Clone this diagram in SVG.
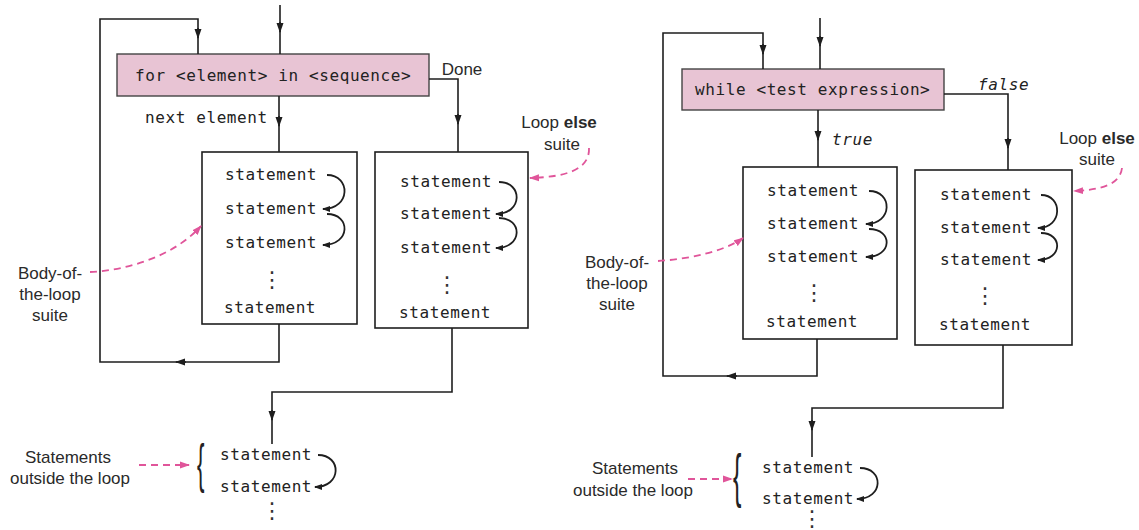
<svg xmlns="http://www.w3.org/2000/svg" width="1139" height="530" viewBox="0 0 1139 530">
<defs>
<marker id="a" markerUnits="userSpaceOnUse" markerWidth="10" markerHeight="8" refX="9" refY="4" orient="auto"><path d="M0,0.5 L10,4 L0,7.5 z" fill="#1e1e1e"/></marker>
<marker id="s" markerUnits="userSpaceOnUse" markerWidth="8" markerHeight="7" refX="7" refY="3.5" orient="auto"><path d="M0,0.5 L8,3.5 L0,6.5 z" fill="#1e1e1e"/></marker>
<marker id="p" markerUnits="userSpaceOnUse" markerWidth="10" markerHeight="8" refX="9" refY="4" orient="auto"><path d="M0,0.5 L10,4 L0,7.5 z" fill="#e0559a"/></marker>
</defs>
<style>
.ln{fill:none;stroke:#1e1e1e;stroke-width:1.6}
.ar{fill:none;stroke:#1e1e1e;stroke-width:1.6;marker-end:url(#a)}
.cv{fill:none;stroke:#1e1e1e;stroke-width:1.8;marker-end:url(#s)}
.pk{fill:none;stroke:#e0559a;stroke-width:1.8;stroke-dasharray:7 5;marker-end:url(#p)}
.box{fill:#fff;stroke:#1e1e1e;stroke-width:1.6}
.hd{fill:#e8c4d4;stroke:#444;stroke-width:1.4}
.m{font-family:"DejaVu Sans Mono",monospace;font-size:16px;letter-spacing:0.6px;fill:#222}
.mi{font-family:"DejaVu Sans Mono",monospace;font-size:16px;font-style:italic;letter-spacing:0.6px;fill:#222}
.t{font-family:"Liberation Sans",Arial,sans-serif;font-size:17px;fill:#2a2a2a;text-anchor:middle}
.d{font-family:"DejaVu Sans",sans-serif;font-size:22px;fill:#333;text-anchor:middle}
.br{font-family:"Liberation Sans",Arial,sans-serif;fill:#222}
</style>

<g id="for-header">
  <rect class="hd" x="117" y="54" width="312" height="42"/>
  <text class="m" x="135" y="81">for &lt;element&gt; in &lt;sequence&gt;</text>
</g>
<g id="for-labels">
  <text class="m" x="145" y="123">next element</text>
  <text class="t" x="462" y="75">Done</text>
</g>
<g id="for-body">
  <rect class="box" x="202" y="152" width="155" height="172"/>
  <text class="m" x="225" y="180">statement</text>
  <text class="m" x="225" y="214">statement</text>
  <text class="m" x="225" y="248">statement</text>
  <text class="d" x="272" y="287">⋮</text>
  <text class="m" x="224" y="313">statement</text>
</g>
<g id="for-else">
  <rect class="box" x="375" y="152" width="153" height="176"/>
  <text class="m" x="400" y="187">statement</text>
  <text class="m" x="400" y="219">statement</text>
  <text class="m" x="400" y="253">statement</text>
  <text class="d" x="447" y="292">⋮</text>
  <text class="m" x="399" y="318">statement</text>
</g>
<g id="for-after">
  <text class="br" font-size="53" transform="translate(197,482) scale(0.42,1)">{</text>
  <text class="m" x="220" y="460">statement</text>
  <text class="m" x="220" y="492">statement</text>
  <text class="d" x="272" y="518">⋮</text>
</g>
<g id="for-annotations">
  <text class="t" x="50" y="279">Body-of-</text>
  <text class="t" x="50" y="300">the-loop</text>
  <text class="t" x="50" y="321">suite</text>
  <text class="t" x="559" y="128">Loop <tspan font-weight="bold">else</tspan></text>
  <text class="t" x="562" y="150">suite</text>
  <text class="t" x="68" y="463">Statements</text>
  <text class="t" x="70" y="484">outside the loop</text>
</g>

<g id="while-header">
  <rect class="hd" x="682" y="69" width="262" height="41"/>
  <text class="m" x="695" y="95">while &lt;test expression&gt;</text>
</g>
<g id="while-labels">
  <text class="mi" x="978" y="90">false</text>
  <text class="mi" x="832" y="145">true</text>
</g>
<g id="while-body">
  <rect class="box" x="743" y="167" width="154" height="172"/>
  <text class="m" x="767" y="196">statement</text>
  <text class="m" x="767" y="229">statement</text>
  <text class="m" x="767" y="262">statement</text>
  <text class="d" x="814" y="300">⋮</text>
  <text class="m" x="766" y="327">statement</text>
</g>
<g id="while-else">
  <rect class="box" x="915" y="170" width="157" height="175"/>
  <text class="m" x="940" y="200">statement</text>
  <text class="m" x="940" y="233">statement</text>
  <text class="m" x="940" y="265">statement</text>
  <text class="d" x="985" y="303">⋮</text>
  <text class="m" x="939" y="330">statement</text>
</g>
<g id="while-after">
  <text class="br" font-size="60" transform="translate(733,496) scale(0.42,1)">{</text>
  <text class="m" x="762" y="473">statement</text>
  <text class="m" x="762" y="504">statement</text>
  <text class="d" x="812" y="526" font-size="19">⋮</text>
</g>
<g id="while-annotations">
  <text class="t" x="617" y="268">Body-of-</text>
  <text class="t" x="617" y="289">the-loop</text>
  <text class="t" x="617" y="310">suite</text>
  <text class="t" x="1097" y="144">Loop <tspan font-weight="bold">else</tspan></text>
  <text class="t" x="1097" y="165">suite</text>
  <text class="t" x="635" y="474">Statements</text>
  <text class="t" x="633" y="496">outside the loop</text>
</g>

<g id="connectors">
  <!-- left diagram -->
  <path class="ln" d="M280,5 V54"/>
  <path class="ar" d="M280,22 V32"/>
  <path class="ln" d="M279,324 V362 H100 V19 H198 V54"/>
  <path class="ar" d="M186,362 H176"/>
  <path class="ar" d="M198,28 V38"/>
  <path class="ln" d="M279,96 V152"/>
  <path class="ar" d="M279,116 V126"/>
  <path class="ln" d="M429,79 H458 V152"/>
  <path class="ar" d="M458,114 V124"/>
  <path class="ln" d="M452,328 V392 H272 V444"/>
  <path class="ar" d="M272,410 V420"/>
  <!-- right diagram -->
  <path class="ln" d="M820,18 V69"/>
  <path class="ar" d="M820,36 V46"/>
  <path class="ln" d="M817,339 V376 H663 V33 H763 V69"/>
  <path class="ar" d="M737,376 H727"/>
  <path class="ar" d="M763,44 V54"/>
  <path class="ln" d="M818,110 V167"/>
  <path class="ar" d="M818,130 V140"/>
  <path class="ln" d="M944,94 H1008 V170"/>
  <path class="ar" d="M1008,138 V148"/>
  <path class="ln" d="M1003,345 V408 H812 V457"/>
  <path class="ar" d="M812,420 V430"/>
  <!-- statement sequence arrows -->
  <path class="cv" d="M327,175 C351,175 351,209 323,209"/>
  <path class="cv" d="M327,214 C351,214 351,245 323,245"/>
  <path class="cv" d="M499,182 C523,182 523,214 496,214"/>
  <path class="cv" d="M499,218 C523,218 523,248 496,248"/>
  <path class="cv" d="M869,191 C893,191 893,224 866,224"/>
  <path class="cv" d="M869,229 C893,229 893,257 866,257"/>
  <path class="cv" d="M1041,195 C1063,195 1063,228 1038,228"/>
  <path class="cv" d="M1041,233 C1063,233 1063,260 1038,260"/>
  <path class="cv" d="M318,455 C342,455 342,487 315,487"/>
  <path class="cv" d="M860,468 C884,468 884,499 857,499"/>
  <!-- pink annotation arrows -->
  <path class="pk" d="M90,272 C130,270 175,255 201,226"/>
  <path class="pk" d="M589,148 C590,170 565,177 530,178"/>
  <path class="pk" d="M139,465 H189"/>
  <path class="pk" d="M658,261 C690,259 725,251 743,238"/>
  <path class="pk" d="M1122,168 C1120,185 1100,190 1074,191"/>
  <path class="pk" d="M688,479 H732"/>
</g>
</svg>
